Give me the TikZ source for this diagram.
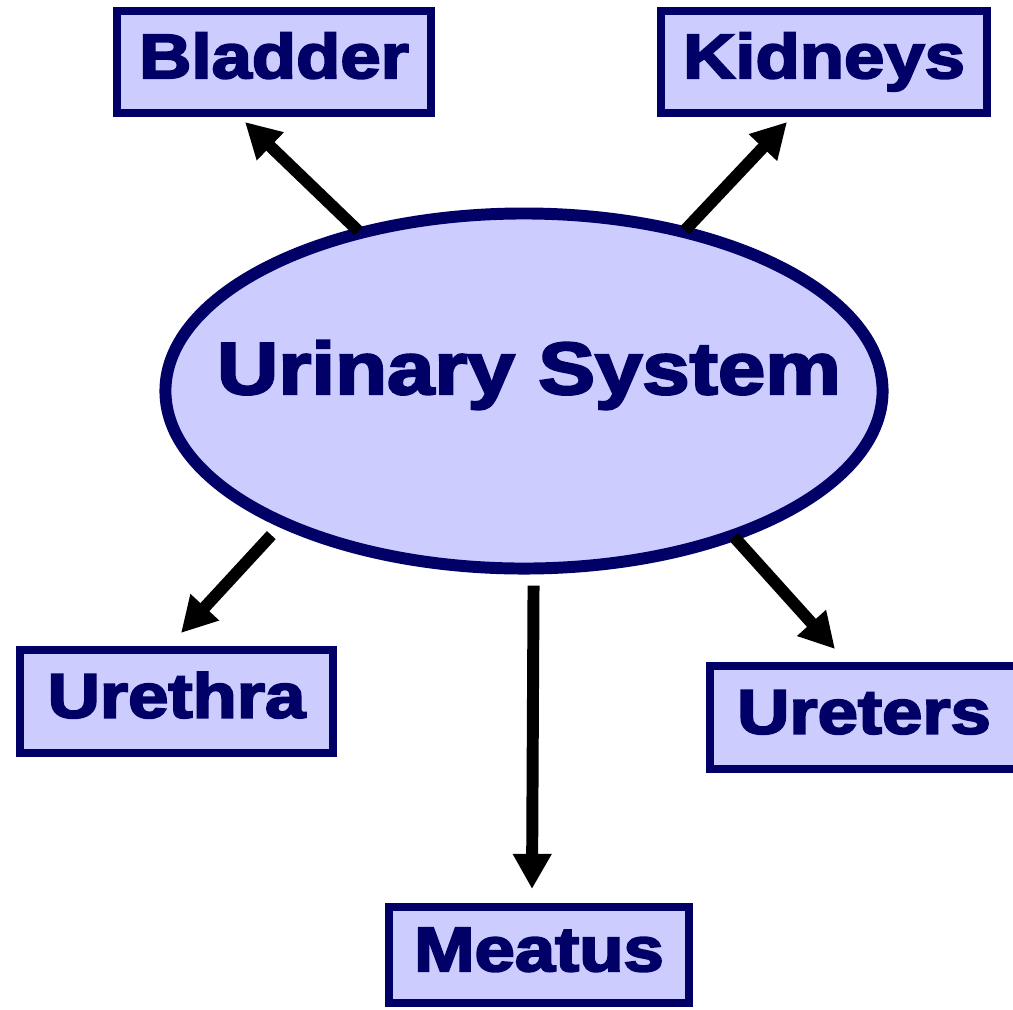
\documentclass[tikz,border=0pt]{standalone}
\usepackage{fontspec}
\setmainfont[BoldFeatures={FakeBold=3}]{Liberation Sans}
\usetikzlibrary{arrows.meta,shapes.geometric}
\definecolor{navy}{HTML}{000066}
\definecolor{lilac}{HTML}{CCCCFF}
\newcommand{\wide}[1]{\scalebox{1.15}[1]{#1}}

\begin{document}
\begin{tikzpicture}[x=0.025cm,y=-0.025cm,
  part/.style={draw=navy,fill=lilac,line width=6pt,text=navy,inner sep=0pt,
    font=\fontsize{44.8}{50}\selectfont\bfseries,text height=32pt,text depth=9pt},
  link/.style={line width=8.5pt,-{Triangle[length=25pt,width=26pt]}}]
\useasboundingbox (0,0) rectangle (1013,1009);

\node[ellipse,draw=navy,fill=lilac,line width=8.5pt,inner sep=0pt,minimum width=510pt,minimum height=252.5pt] (sys) at (524,391) {};
\node[text=navy,font=\fontsize{52.6}{60}\selectfont\bfseries] (title) at (529,375) {\wide{Urinary System}};

\node[part,minimum width=223.6pt,minimum height=72.9pt] (bladder) at (274,62) {\wide{Bladder}};
\node[part,minimum width=232.2pt,minimum height=72.9pt] (kidneys) at (824,62) {\wide{Kidneys}};
\node[part,minimum width=222.9pt,minimum height=73.6pt] (urethra) at (176.5,701.5) {\wide{Urethra}};
\node[part,minimum width=219.4pt,minimum height=73.6pt] (ureters) at (864,717.5) {\wide{Ureters}};
\node[part,minimum width=213.7pt,minimum height=68.6pt] (meatus) at (539,955) {\wide{Meatus}};

\coordinate (tipBladder) at (245,122);
\coordinate (tipKidneys) at (787,122);
\coordinate (tipUrethra) at (181,633);
\coordinate (tipUreters) at (835,649);
\coordinate (tipMeatus) at (532,889);

\path[link,shorten <=-3pt] (sys.136.6) edge (tipBladder);
\path[link,shorten <=-3pt] (sys.45.9) edge (tipKidneys);
\path[link,shorten <=8pt] (sys.209.8) edge (tipUrethra);
\path[link,shorten <=-3pt] (sys.-35.9) edge (tipUreters);
\path[link,shorten <=8pt] (sys.-87.5) edge (tipMeatus);
\end{tikzpicture}
\end{document}
